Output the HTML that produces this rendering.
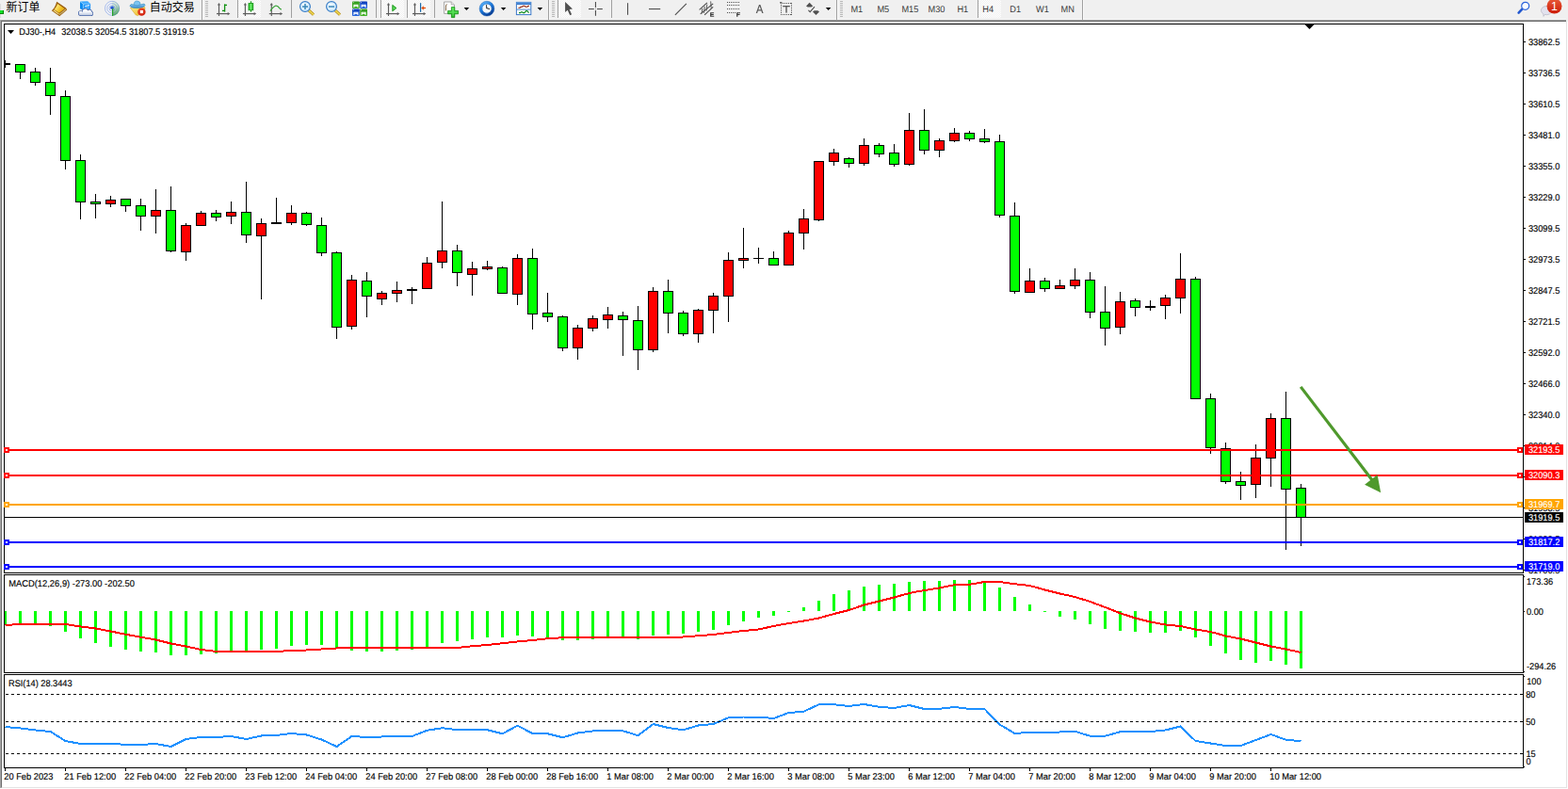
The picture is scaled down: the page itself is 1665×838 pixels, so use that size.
<!DOCTYPE html>
<html><head><meta charset="utf-8"><title>DJ30-,H4</title>
<style>
html,body{margin:0;padding:0;background:#fff;}
body{width:1665px;height:838px;overflow:hidden;position:relative;font-family:"Liberation Sans",sans-serif;}
.tb{position:absolute;left:0;top:0;width:1665px;height:23px;background:#f0f0f0;}
.tb i{position:absolute;left:0;width:1663px;height:1px;display:block}
.ls0{position:absolute;left:0;top:21px;width:1px;height:816px;background:#a6a6a6}
.ls1{position:absolute;left:1px;top:22px;width:1px;height:814px;background:#6d6d6d;box-shadow:0 1px 0 #a6a6a6}
.rs{position:absolute;left:1663px;top:23px;width:1px;height:814px;background:#e3e3e3}
.bs{position:absolute;left:2px;top:836px;width:1662px;height:1px;background:#e3e3e3}
svg.chart{position:absolute;left:0;top:0}
svg.tbi{position:absolute;left:0;top:0}
</style></head><body>
<div class="tb"><i style="top:20px;background:#f5f5f5"></i><i style="top:21px;background:#a0a0a0"></i><i style="top:22px;background:#696969"></i></div>
<div class="rs"></div><div class="bs"></div><div class="ls0"></div><div class="ls1"></div>
<svg class="chart" width="1665" height="838" viewBox="0 0 1665 838">
<g shape-rendering="crispEdges">
<rect x="4" y="25" width="1614" height="1" fill="#000"/>
<rect x="4" y="608" width="1614" height="1" fill="#000"/>
<rect x="4" y="25" width="1" height="584" fill="#000"/>
<rect x="1617" y="25" width="1" height="584" fill="#000"/>
<rect x="4" y="610" width="1614" height="1" fill="#000"/>
<rect x="4" y="714" width="1614" height="1" fill="#000"/>
<rect x="4" y="610" width="1" height="105" fill="#000"/>
<rect x="1617" y="610" width="1" height="105" fill="#000"/>
<rect x="4" y="716" width="1614" height="1" fill="#000"/>
<rect x="4" y="815" width="1614" height="1" fill="#000"/>
<rect x="4" y="716" width="1" height="100" fill="#000"/>
<rect x="1617" y="716" width="1" height="100" fill="#000"/>
<polygon points="1385.5,26 1395.5,26 1390.5,31" fill="#000" shape-rendering="geometricPrecision"/>
<polygon points="8,32 15,32 11.5,36" fill="#000" shape-rendering="geometricPrecision"/>
<rect x="5" y="64" width="1" height="8" fill="#000"/>
<rect x="5" y="67" width="6" height="2" fill="#000"/>
<rect x="21" y="68" width="1" height="16" fill="#000"/>
<rect x="16" y="68" width="11" height="9" fill="#000"/>
<rect x="17" y="69" width="9" height="7" fill="#00ff00"/>
<rect x="37" y="72" width="1" height="19" fill="#000"/>
<rect x="32" y="76" width="11" height="12" fill="#000"/>
<rect x="33" y="77" width="9" height="10" fill="#00ff00"/>
<rect x="53" y="72" width="1" height="50" fill="#000"/>
<rect x="48" y="87" width="11" height="15" fill="#000"/>
<rect x="49" y="88" width="9" height="13" fill="#00ff00"/>
<rect x="69" y="96" width="1" height="84" fill="#000"/>
<rect x="64" y="102" width="11" height="69" fill="#000"/>
<rect x="65" y="103" width="9" height="67" fill="#00ff00"/>
<rect x="85" y="164" width="1" height="69" fill="#000"/>
<rect x="80" y="170" width="11" height="45" fill="#000"/>
<rect x="81" y="171" width="9" height="43" fill="#00ff00"/>
<rect x="101" y="206" width="1" height="26" fill="#000"/>
<rect x="96" y="214" width="11" height="3" fill="#000"/>
<rect x="97" y="215" width="9" height="1" fill="#00ff00"/>
<rect x="117" y="208" width="1" height="12" fill="#000"/>
<rect x="112" y="212" width="11" height="5" fill="#000"/>
<rect x="113" y="213" width="9" height="3" fill="#ff0000"/>
<rect x="133" y="211" width="1" height="14" fill="#000"/>
<rect x="128" y="211" width="11" height="8" fill="#000"/>
<rect x="129" y="212" width="9" height="6" fill="#00ff00"/>
<rect x="149" y="211" width="1" height="34" fill="#000"/>
<rect x="144" y="218" width="11" height="12" fill="#000"/>
<rect x="145" y="219" width="9" height="10" fill="#00ff00"/>
<rect x="165" y="201" width="1" height="47" fill="#000"/>
<rect x="160" y="223" width="11" height="7" fill="#000"/>
<rect x="161" y="224" width="9" height="5" fill="#ff0000"/>
<rect x="181" y="198" width="1" height="70" fill="#000"/>
<rect x="176" y="223" width="11" height="44" fill="#000"/>
<rect x="177" y="224" width="9" height="42" fill="#00ff00"/>
<rect x="197" y="237" width="1" height="40" fill="#000"/>
<rect x="192" y="239" width="11" height="29" fill="#000"/>
<rect x="193" y="240" width="9" height="27" fill="#ff0000"/>
<rect x="213" y="224" width="1" height="16" fill="#000"/>
<rect x="208" y="226" width="11" height="14" fill="#000"/>
<rect x="209" y="227" width="9" height="12" fill="#ff0000"/>
<rect x="229" y="223" width="1" height="12" fill="#000"/>
<rect x="224" y="226" width="11" height="5" fill="#000"/>
<rect x="225" y="227" width="9" height="3" fill="#00ff00"/>
<rect x="245" y="214" width="1" height="24" fill="#000"/>
<rect x="240" y="225" width="11" height="5" fill="#000"/>
<rect x="241" y="226" width="9" height="3" fill="#ff0000"/>
<rect x="261" y="193" width="1" height="65" fill="#000"/>
<rect x="256" y="225" width="11" height="25" fill="#000"/>
<rect x="257" y="226" width="9" height="23" fill="#00ff00"/>
<rect x="277" y="232" width="1" height="86" fill="#000"/>
<rect x="272" y="237" width="11" height="14" fill="#000"/>
<rect x="273" y="238" width="9" height="12" fill="#ff0000"/>
<rect x="293" y="210" width="1" height="28" fill="#000"/>
<rect x="288" y="236" width="11" height="2" fill="#000"/>
<rect x="309" y="218" width="1" height="21" fill="#000"/>
<rect x="304" y="226" width="11" height="11" fill="#000"/>
<rect x="305" y="227" width="9" height="9" fill="#ff0000"/>
<rect x="325" y="225" width="1" height="15" fill="#000"/>
<rect x="320" y="226" width="11" height="13" fill="#000"/>
<rect x="321" y="227" width="9" height="11" fill="#00ff00"/>
<rect x="341" y="231" width="1" height="41" fill="#000"/>
<rect x="336" y="239" width="11" height="30" fill="#000"/>
<rect x="337" y="240" width="9" height="28" fill="#00ff00"/>
<rect x="357" y="267" width="1" height="93" fill="#000"/>
<rect x="352" y="268" width="11" height="80" fill="#000"/>
<rect x="353" y="269" width="9" height="78" fill="#00ff00"/>
<rect x="373" y="292" width="1" height="58" fill="#000"/>
<rect x="368" y="297" width="11" height="50" fill="#000"/>
<rect x="369" y="298" width="9" height="48" fill="#ff0000"/>
<rect x="389" y="289" width="1" height="48" fill="#000"/>
<rect x="384" y="298" width="11" height="17" fill="#000"/>
<rect x="385" y="299" width="9" height="15" fill="#00ff00"/>
<rect x="405" y="309" width="1" height="15" fill="#000"/>
<rect x="400" y="311" width="11" height="7" fill="#000"/>
<rect x="401" y="312" width="9" height="5" fill="#ff0000"/>
<rect x="421" y="299" width="1" height="22" fill="#000"/>
<rect x="416" y="308" width="11" height="4" fill="#000"/>
<rect x="417" y="309" width="9" height="2" fill="#ff0000"/>
<rect x="437" y="305" width="1" height="18" fill="#000"/>
<rect x="432" y="307" width="11" height="2" fill="#000"/>
<rect x="453" y="273" width="1" height="34" fill="#000"/>
<rect x="448" y="279" width="11" height="28" fill="#000"/>
<rect x="449" y="280" width="9" height="26" fill="#ff0000"/>
<rect x="469" y="214" width="1" height="71" fill="#000"/>
<rect x="464" y="266" width="11" height="13" fill="#000"/>
<rect x="465" y="267" width="9" height="11" fill="#ff0000"/>
<rect x="485" y="260" width="1" height="44" fill="#000"/>
<rect x="480" y="266" width="11" height="24" fill="#000"/>
<rect x="481" y="267" width="9" height="22" fill="#00ff00"/>
<rect x="501" y="278" width="1" height="36" fill="#000"/>
<rect x="496" y="285" width="11" height="7" fill="#000"/>
<rect x="497" y="286" width="9" height="5" fill="#ff0000"/>
<rect x="517" y="277" width="1" height="10" fill="#000"/>
<rect x="512" y="283" width="11" height="3" fill="#000"/>
<rect x="513" y="284" width="9" height="1" fill="#ff0000"/>
<rect x="533" y="283" width="1" height="29" fill="#000"/>
<rect x="528" y="284" width="11" height="28" fill="#000"/>
<rect x="529" y="285" width="9" height="26" fill="#00ff00"/>
<rect x="549" y="270" width="1" height="54" fill="#000"/>
<rect x="544" y="274" width="11" height="39" fill="#000"/>
<rect x="545" y="275" width="9" height="37" fill="#ff0000"/>
<rect x="565" y="264" width="1" height="86" fill="#000"/>
<rect x="560" y="274" width="11" height="60" fill="#000"/>
<rect x="561" y="275" width="9" height="58" fill="#00ff00"/>
<rect x="581" y="311" width="1" height="31" fill="#000"/>
<rect x="576" y="332" width="11" height="5" fill="#000"/>
<rect x="577" y="333" width="9" height="3" fill="#00ff00"/>
<rect x="597" y="335" width="1" height="38" fill="#000"/>
<rect x="592" y="336" width="11" height="34" fill="#000"/>
<rect x="593" y="337" width="9" height="32" fill="#00ff00"/>
<rect x="613" y="345" width="1" height="37" fill="#000"/>
<rect x="608" y="348" width="11" height="22" fill="#000"/>
<rect x="609" y="349" width="9" height="20" fill="#ff0000"/>
<rect x="629" y="335" width="1" height="17" fill="#000"/>
<rect x="624" y="338" width="11" height="11" fill="#000"/>
<rect x="625" y="339" width="9" height="9" fill="#ff0000"/>
<rect x="645" y="326" width="1" height="23" fill="#000"/>
<rect x="640" y="334" width="11" height="6" fill="#000"/>
<rect x="641" y="335" width="9" height="4" fill="#ff0000"/>
<rect x="661" y="331" width="1" height="47" fill="#000"/>
<rect x="656" y="335" width="11" height="5" fill="#000"/>
<rect x="657" y="336" width="9" height="3" fill="#00ff00"/>
<rect x="677" y="325" width="1" height="68" fill="#000"/>
<rect x="672" y="340" width="11" height="32" fill="#000"/>
<rect x="673" y="341" width="9" height="30" fill="#00ff00"/>
<rect x="693" y="305" width="1" height="69" fill="#000"/>
<rect x="688" y="309" width="11" height="63" fill="#000"/>
<rect x="689" y="310" width="9" height="61" fill="#ff0000"/>
<rect x="709" y="297" width="1" height="57" fill="#000"/>
<rect x="704" y="309" width="11" height="24" fill="#000"/>
<rect x="705" y="310" width="9" height="22" fill="#00ff00"/>
<rect x="725" y="330" width="1" height="27" fill="#000"/>
<rect x="720" y="332" width="11" height="23" fill="#000"/>
<rect x="721" y="333" width="9" height="21" fill="#00ff00"/>
<rect x="741" y="328" width="1" height="36" fill="#000"/>
<rect x="736" y="329" width="11" height="26" fill="#000"/>
<rect x="737" y="330" width="9" height="24" fill="#ff0000"/>
<rect x="757" y="311" width="1" height="43" fill="#000"/>
<rect x="752" y="314" width="11" height="16" fill="#000"/>
<rect x="753" y="315" width="9" height="14" fill="#ff0000"/>
<rect x="773" y="268" width="1" height="74" fill="#000"/>
<rect x="768" y="276" width="11" height="39" fill="#000"/>
<rect x="769" y="277" width="9" height="37" fill="#ff0000"/>
<rect x="789" y="242" width="1" height="43" fill="#000"/>
<rect x="784" y="274" width="11" height="3" fill="#000"/>
<rect x="785" y="275" width="9" height="1" fill="#ff0000"/>
<rect x="805" y="263" width="1" height="17" fill="#000"/>
<rect x="800" y="274" width="11" height="1" fill="#000"/>
<rect x="821" y="267" width="1" height="15" fill="#000"/>
<rect x="816" y="274" width="11" height="8" fill="#000"/>
<rect x="817" y="275" width="9" height="6" fill="#00ff00"/>
<rect x="837" y="245" width="1" height="37" fill="#000"/>
<rect x="832" y="247" width="11" height="35" fill="#000"/>
<rect x="833" y="248" width="9" height="33" fill="#ff0000"/>
<rect x="853" y="222" width="1" height="43" fill="#000"/>
<rect x="848" y="232" width="11" height="16" fill="#000"/>
<rect x="849" y="233" width="9" height="14" fill="#ff0000"/>
<rect x="869" y="171" width="1" height="64" fill="#000"/>
<rect x="864" y="171" width="11" height="63" fill="#000"/>
<rect x="865" y="172" width="9" height="61" fill="#ff0000"/>
<rect x="885" y="158" width="1" height="18" fill="#000"/>
<rect x="880" y="162" width="11" height="10" fill="#000"/>
<rect x="881" y="163" width="9" height="8" fill="#ff0000"/>
<rect x="901" y="167" width="1" height="11" fill="#000"/>
<rect x="896" y="168" width="11" height="6" fill="#000"/>
<rect x="897" y="169" width="9" height="4" fill="#00ff00"/>
<rect x="917" y="147" width="1" height="29" fill="#000"/>
<rect x="912" y="154" width="11" height="20" fill="#000"/>
<rect x="913" y="155" width="9" height="18" fill="#ff0000"/>
<rect x="933" y="152" width="1" height="15" fill="#000"/>
<rect x="928" y="154" width="11" height="10" fill="#000"/>
<rect x="929" y="155" width="9" height="8" fill="#00ff00"/>
<rect x="949" y="153" width="1" height="24" fill="#000"/>
<rect x="944" y="162" width="11" height="13" fill="#000"/>
<rect x="945" y="163" width="9" height="11" fill="#00ff00"/>
<rect x="965" y="120" width="1" height="56" fill="#000"/>
<rect x="960" y="138" width="11" height="37" fill="#000"/>
<rect x="961" y="139" width="9" height="35" fill="#ff0000"/>
<rect x="981" y="116" width="1" height="48" fill="#000"/>
<rect x="976" y="138" width="11" height="22" fill="#000"/>
<rect x="977" y="139" width="9" height="20" fill="#00ff00"/>
<rect x="997" y="147" width="1" height="20" fill="#000"/>
<rect x="992" y="149" width="11" height="11" fill="#000"/>
<rect x="993" y="150" width="9" height="9" fill="#ff0000"/>
<rect x="1013" y="136" width="1" height="15" fill="#000"/>
<rect x="1008" y="141" width="11" height="9" fill="#000"/>
<rect x="1009" y="142" width="9" height="7" fill="#ff0000"/>
<rect x="1029" y="139" width="1" height="11" fill="#000"/>
<rect x="1024" y="141" width="11" height="7" fill="#000"/>
<rect x="1025" y="142" width="9" height="5" fill="#00ff00"/>
<rect x="1045" y="137" width="1" height="15" fill="#000"/>
<rect x="1040" y="147" width="11" height="4" fill="#000"/>
<rect x="1041" y="148" width="9" height="2" fill="#00ff00"/>
<rect x="1061" y="143" width="1" height="88" fill="#000"/>
<rect x="1056" y="150" width="11" height="79" fill="#000"/>
<rect x="1057" y="151" width="9" height="77" fill="#00ff00"/>
<rect x="1077" y="215" width="1" height="97" fill="#000"/>
<rect x="1072" y="229" width="11" height="81" fill="#000"/>
<rect x="1073" y="230" width="9" height="79" fill="#00ff00"/>
<rect x="1093" y="285" width="1" height="26" fill="#000"/>
<rect x="1088" y="298" width="11" height="13" fill="#000"/>
<rect x="1089" y="299" width="9" height="11" fill="#ff0000"/>
<rect x="1109" y="295" width="1" height="15" fill="#000"/>
<rect x="1104" y="298" width="11" height="9" fill="#000"/>
<rect x="1105" y="299" width="9" height="7" fill="#00ff00"/>
<rect x="1125" y="297" width="1" height="10" fill="#000"/>
<rect x="1120" y="303" width="11" height="4" fill="#000"/>
<rect x="1121" y="304" width="9" height="2" fill="#ff0000"/>
<rect x="1141" y="285" width="1" height="22" fill="#000"/>
<rect x="1136" y="297" width="11" height="7" fill="#000"/>
<rect x="1137" y="298" width="9" height="5" fill="#ff0000"/>
<rect x="1157" y="289" width="1" height="49" fill="#000"/>
<rect x="1152" y="297" width="11" height="35" fill="#000"/>
<rect x="1153" y="298" width="9" height="33" fill="#00ff00"/>
<rect x="1173" y="304" width="1" height="63" fill="#000"/>
<rect x="1168" y="331" width="11" height="18" fill="#000"/>
<rect x="1169" y="332" width="9" height="16" fill="#00ff00"/>
<rect x="1189" y="310" width="1" height="45" fill="#000"/>
<rect x="1184" y="320" width="11" height="28" fill="#000"/>
<rect x="1185" y="321" width="9" height="26" fill="#ff0000"/>
<rect x="1205" y="317" width="1" height="19" fill="#000"/>
<rect x="1200" y="319" width="11" height="8" fill="#000"/>
<rect x="1201" y="320" width="9" height="6" fill="#00ff00"/>
<rect x="1221" y="319" width="1" height="11" fill="#000"/>
<rect x="1216" y="325" width="11" height="2" fill="#000"/>
<rect x="1237" y="313" width="1" height="26" fill="#000"/>
<rect x="1232" y="316" width="11" height="9" fill="#000"/>
<rect x="1233" y="317" width="9" height="7" fill="#ff0000"/>
<rect x="1253" y="269" width="1" height="64" fill="#000"/>
<rect x="1248" y="296" width="11" height="21" fill="#000"/>
<rect x="1249" y="297" width="9" height="19" fill="#ff0000"/>
<rect x="1269" y="294" width="1" height="130" fill="#000"/>
<rect x="1264" y="296" width="11" height="128" fill="#000"/>
<rect x="1265" y="297" width="9" height="126" fill="#00ff00"/>
<rect x="1285" y="418" width="1" height="64" fill="#000"/>
<rect x="1280" y="423" width="11" height="53" fill="#000"/>
<rect x="1281" y="424" width="9" height="51" fill="#00ff00"/>
<rect x="1301" y="470" width="1" height="44" fill="#000"/>
<rect x="1296" y="476" width="11" height="36" fill="#000"/>
<rect x="1297" y="477" width="9" height="34" fill="#00ff00"/>
<rect x="1317" y="501" width="1" height="30" fill="#000"/>
<rect x="1312" y="511" width="11" height="5" fill="#000"/>
<rect x="1313" y="512" width="9" height="3" fill="#00ff00"/>
<rect x="1333" y="472" width="1" height="57" fill="#000"/>
<rect x="1328" y="486" width="11" height="29" fill="#000"/>
<rect x="1329" y="487" width="9" height="27" fill="#ff0000"/>
<rect x="1349" y="439" width="1" height="78" fill="#000"/>
<rect x="1344" y="444" width="11" height="43" fill="#000"/>
<rect x="1345" y="445" width="9" height="41" fill="#ff0000"/>
<rect x="1365" y="416" width="1" height="168" fill="#000"/>
<rect x="1360" y="444" width="11" height="76" fill="#000"/>
<rect x="1361" y="445" width="9" height="74" fill="#00ff00"/>
<rect x="1381" y="514" width="1" height="66" fill="#000"/>
<rect x="1376" y="518" width="11" height="32" fill="#000"/>
<rect x="1377" y="519" width="9" height="30" fill="#00ff00"/>
<rect x="5" y="549" width="1612" height="1" fill="#000"/>
<rect x="5" y="477" width="1612" height="2" fill="#ff0000"/><rect x="4" y="475" width="6" height="6" fill="#ff0000"/><rect x="6" y="477" width="2" height="2" fill="#fff"/><rect x="1611" y="475" width="6" height="6" fill="#ff0000"/><rect x="1613" y="477" width="2" height="2" fill="#fff"/>
<rect x="5" y="504" width="1612" height="2" fill="#ff0000"/><rect x="4" y="502" width="6" height="6" fill="#ff0000"/><rect x="6" y="504" width="2" height="2" fill="#fff"/><rect x="1611" y="502" width="6" height="6" fill="#ff0000"/><rect x="1613" y="504" width="2" height="2" fill="#fff"/>
<rect x="5" y="535" width="1612" height="2" fill="#ffa500"/><rect x="4" y="533" width="6" height="6" fill="#ffa500"/><rect x="6" y="535" width="2" height="2" fill="#fff"/><rect x="1611" y="533" width="6" height="6" fill="#ffa500"/><rect x="1613" y="535" width="2" height="2" fill="#fff"/>
<rect x="5" y="575" width="1612" height="2" fill="#0000ff"/><rect x="4" y="573" width="6" height="6" fill="#0000ff"/><rect x="6" y="575" width="2" height="2" fill="#fff"/><rect x="1611" y="573" width="6" height="6" fill="#0000ff"/><rect x="1613" y="575" width="2" height="2" fill="#fff"/>
<rect x="5" y="601" width="1612" height="2" fill="#0000ff"/><rect x="4" y="599" width="6" height="6" fill="#0000ff"/><rect x="6" y="601" width="2" height="2" fill="#fff"/><rect x="1611" y="599" width="6" height="6" fill="#0000ff"/><rect x="1613" y="601" width="2" height="2" fill="#fff"/>
<g shape-rendering="geometricPrecision"><line x1="1381.2" y1="410.9" x2="1457.5" y2="510.5" stroke="#4f992c" stroke-width="3.2"/><polygon points="1449.1,514.8 1462.6,504.2 1466.2,523.3" fill="#4f992c"/></g>
<rect x="5" y="649" width="2" height="15" fill="#00ff00"/>
<rect x="20" y="649" width="3" height="14" fill="#00ff00"/>
<rect x="36" y="649" width="3" height="14" fill="#00ff00"/>
<rect x="52" y="649" width="3" height="16" fill="#00ff00"/>
<rect x="68" y="649" width="3" height="22" fill="#00ff00"/>
<rect x="84" y="649" width="3" height="29" fill="#00ff00"/>
<rect x="100" y="649" width="3" height="34" fill="#00ff00"/>
<rect x="116" y="649" width="3" height="38" fill="#00ff00"/>
<rect x="132" y="649" width="3" height="41" fill="#00ff00"/>
<rect x="148" y="649" width="3" height="43" fill="#00ff00"/>
<rect x="164" y="649" width="3" height="44" fill="#00ff00"/>
<rect x="180" y="649" width="3" height="47" fill="#00ff00"/>
<rect x="196" y="649" width="3" height="47" fill="#00ff00"/>
<rect x="212" y="649" width="3" height="46" fill="#00ff00"/>
<rect x="228" y="649" width="3" height="45" fill="#00ff00"/>
<rect x="244" y="649" width="3" height="43" fill="#00ff00"/>
<rect x="260" y="649" width="3" height="43" fill="#00ff00"/>
<rect x="276" y="649" width="3" height="41" fill="#00ff00"/>
<rect x="292" y="649" width="3" height="40" fill="#00ff00"/>
<rect x="308" y="649" width="3" height="37" fill="#00ff00"/>
<rect x="324" y="649" width="3" height="36" fill="#00ff00"/>
<rect x="340" y="649" width="3" height="36" fill="#00ff00"/>
<rect x="356" y="649" width="3" height="40" fill="#00ff00"/>
<rect x="372" y="649" width="3" height="42" fill="#00ff00"/>
<rect x="388" y="649" width="3" height="43" fill="#00ff00"/>
<rect x="404" y="649" width="3" height="43" fill="#00ff00"/>
<rect x="420" y="649" width="3" height="42" fill="#00ff00"/>
<rect x="436" y="649" width="3" height="41" fill="#00ff00"/>
<rect x="452" y="649" width="3" height="38" fill="#00ff00"/>
<rect x="468" y="649" width="3" height="34" fill="#00ff00"/>
<rect x="484" y="649" width="3" height="32" fill="#00ff00"/>
<rect x="500" y="649" width="3" height="30" fill="#00ff00"/>
<rect x="516" y="649" width="3" height="28" fill="#00ff00"/>
<rect x="532" y="649" width="3" height="28" fill="#00ff00"/>
<rect x="548" y="649" width="3" height="26" fill="#00ff00"/>
<rect x="564" y="649" width="3" height="27" fill="#00ff00"/>
<rect x="580" y="649" width="3" height="29" fill="#00ff00"/>
<rect x="596" y="649" width="3" height="31" fill="#00ff00"/>
<rect x="612" y="649" width="3" height="31" fill="#00ff00"/>
<rect x="628" y="649" width="3" height="30" fill="#00ff00"/>
<rect x="644" y="649" width="3" height="28" fill="#00ff00"/>
<rect x="660" y="649" width="3" height="28" fill="#00ff00"/>
<rect x="676" y="649" width="3" height="30" fill="#00ff00"/>
<rect x="692" y="649" width="3" height="26" fill="#00ff00"/>
<rect x="708" y="649" width="3" height="25" fill="#00ff00"/>
<rect x="724" y="649" width="3" height="24" fill="#00ff00"/>
<rect x="740" y="649" width="3" height="22" fill="#00ff00"/>
<rect x="756" y="649" width="3" height="20" fill="#00ff00"/>
<rect x="772" y="649" width="3" height="15" fill="#00ff00"/>
<rect x="788" y="649" width="3" height="11" fill="#00ff00"/>
<rect x="804" y="649" width="3" height="7" fill="#00ff00"/>
<rect x="820" y="649" width="3" height="5" fill="#00ff00"/>
<rect x="836" y="649" width="3" height="1" fill="#00ff00"/>
<rect x="852" y="645" width="3" height="4" fill="#00ff00"/>
<rect x="868" y="638" width="3" height="11" fill="#00ff00"/>
<rect x="884" y="631" width="3" height="18" fill="#00ff00"/>
<rect x="900" y="627" width="3" height="22" fill="#00ff00"/>
<rect x="916" y="623" width="3" height="26" fill="#00ff00"/>
<rect x="932" y="621" width="3" height="28" fill="#00ff00"/>
<rect x="948" y="620" width="3" height="29" fill="#00ff00"/>
<rect x="964" y="618" width="3" height="31" fill="#00ff00"/>
<rect x="980" y="617" width="3" height="32" fill="#00ff00"/>
<rect x="996" y="617" width="3" height="32" fill="#00ff00"/>
<rect x="1012" y="616" width="3" height="33" fill="#00ff00"/>
<rect x="1028" y="616" width="3" height="33" fill="#00ff00"/>
<rect x="1044" y="617" width="3" height="32" fill="#00ff00"/>
<rect x="1060" y="624" width="3" height="25" fill="#00ff00"/>
<rect x="1076" y="634" width="3" height="15" fill="#00ff00"/>
<rect x="1092" y="642" width="3" height="7" fill="#00ff00"/>
<rect x="1108" y="649" width="3" height="1" fill="#00ff00"/>
<rect x="1124" y="649" width="3" height="6" fill="#00ff00"/>
<rect x="1140" y="649" width="3" height="9" fill="#00ff00"/>
<rect x="1156" y="649" width="3" height="14" fill="#00ff00"/>
<rect x="1172" y="649" width="3" height="19" fill="#00ff00"/>
<rect x="1188" y="649" width="3" height="21" fill="#00ff00"/>
<rect x="1204" y="649" width="3" height="22" fill="#00ff00"/>
<rect x="1220" y="649" width="3" height="23" fill="#00ff00"/>
<rect x="1236" y="649" width="3" height="23" fill="#00ff00"/>
<rect x="1252" y="649" width="3" height="21" fill="#00ff00"/>
<rect x="1268" y="649" width="3" height="28" fill="#00ff00"/>
<rect x="1284" y="649" width="3" height="37" fill="#00ff00"/>
<rect x="1300" y="649" width="3" height="45" fill="#00ff00"/>
<rect x="1316" y="649" width="3" height="52" fill="#00ff00"/>
<rect x="1332" y="649" width="3" height="55" fill="#00ff00"/>
<rect x="1348" y="649" width="3" height="53" fill="#00ff00"/>
<rect x="1364" y="649" width="3" height="57" fill="#00ff00"/>
<rect x="1380" y="649" width="3" height="61" fill="#00ff00"/>
<polyline points="5.5,664 21.5,663 37.5,663 53.5,663 69.5,663 85.5,665.5 101.5,667.5 117.5,670.5 133.5,673.75 149.5,676.75 165.5,679.5 181.5,683.5 197.5,686.5 213.5,690 229.5,692 245.5,692 261.5,692 277.5,692 293.5,692 309.5,691 325.5,690.5 341.5,689.5 357.5,688.5 373.5,688 389.5,688 405.5,688 421.5,688 437.5,688 453.5,688 469.5,688 485.5,688 501.5,686.25 517.5,685 533.5,683.25 549.5,681.5 565.5,680 581.5,678.25 597.5,677.25 613.5,677 629.5,677 645.5,677 661.5,677 677.5,677 693.5,677 709.5,677 725.5,676.5 741.5,675.25 757.5,674 773.5,672 789.5,670 805.5,668.5 821.5,665 837.5,662 853.5,659.5 869.5,656.5 885.5,652 901.5,648 917.5,642.5 933.5,638.5 949.5,634.5 965.5,630 981.5,627 997.5,624.5 1013.5,621.25 1029.5,620.75 1045.5,618 1061.5,618 1077.5,620.25 1093.5,622 1109.5,626.5 1125.5,630.5 1141.5,634 1157.5,639 1173.5,645 1189.5,651.25 1205.5,656.5 1221.5,660.5 1237.5,663.5 1253.5,665 1269.5,668.5 1285.5,671 1301.5,675.5 1317.5,678.5 1333.5,682.5 1349.5,686.5 1365.5,689.5 1381.5,693" fill="none" stroke="#ff0000" stroke-width="2" stroke-linejoin="round" shape-rendering="crispEdges"/>
<polyline points="5.5,772 21.5,773.5 37.5,775.5 53.5,777 69.5,787 85.5,790 101.5,790 117.5,790 133.5,790.75 149.5,791 165.5,790 181.5,793 197.5,785 213.5,783 229.5,783 245.5,782 261.5,785 277.5,781.5 293.5,781 309.5,779 325.5,780.5 341.5,785.5 357.5,793 373.5,782 389.5,783 405.5,782.5 421.5,782 437.5,782 453.5,775.75 469.5,773.25 485.5,775.25 501.5,775.25 517.5,775.25 533.5,779.25 549.5,770.75 565.5,779 581.5,779.25 597.5,783.25 613.5,778.5 629.5,776.5 645.5,776.25 661.5,776.25 677.5,781.25 693.5,769 709.5,773 725.5,775.25 741.5,770.5 757.5,769 773.5,762.25 789.5,761.5 805.5,761.5 821.5,763 837.5,757 853.5,755.75 869.5,748.25 885.5,748.25 901.5,750 917.5,748 933.5,750.75 949.5,752 965.5,749 981.5,753 997.5,752.75 1013.5,751 1029.5,753 1045.5,753 1061.5,769.5 1077.5,779 1093.5,777.75 1109.5,777.75 1125.5,777.5 1141.5,776.75 1157.5,781.75 1173.5,781.75 1189.5,777.25 1205.5,777 1221.5,777 1237.5,775.5 1253.5,771.5 1269.5,787 1285.5,789.5 1301.5,792 1317.5,792 1333.5,786 1349.5,780 1365.5,785.75 1381.5,787.25" fill="none" stroke="#1e90ff" stroke-width="2" stroke-linejoin="round" shape-rendering="crispEdges"/>
<line x1="6" y1="737.5" x2="1617" y2="737.5" stroke="#000" stroke-width="1" stroke-dasharray="3,3"/>
<line x1="6" y1="766.5" x2="1617" y2="766.5" stroke="#000" stroke-width="1" stroke-dasharray="3,3"/>
<line x1="6" y1="800.5" x2="1617" y2="800.5" stroke="#000" stroke-width="1" stroke-dasharray="3,3"/>
<rect x="1618" y="44" width="2" height="1" fill="#000"/>
<rect x="1618" y="77" width="2" height="1" fill="#000"/>
<rect x="1618" y="110" width="2" height="1" fill="#000"/>
<rect x="1618" y="143" width="2" height="1" fill="#000"/>
<rect x="1618" y="176" width="2" height="1" fill="#000"/>
<rect x="1618" y="209" width="2" height="1" fill="#000"/>
<rect x="1618" y="242" width="2" height="1" fill="#000"/>
<rect x="1618" y="275" width="2" height="1" fill="#000"/>
<rect x="1618" y="308" width="2" height="1" fill="#000"/>
<rect x="1618" y="341" width="2" height="1" fill="#000"/>
<rect x="1618" y="374" width="2" height="1" fill="#000"/>
<rect x="1618" y="407" width="2" height="1" fill="#000"/>
<rect x="1618" y="440" width="2" height="1" fill="#000"/>
<rect x="1618" y="473" width="2" height="1" fill="#000"/>
<rect x="1618" y="506" width="2" height="1" fill="#000"/>
<rect x="1618" y="539" width="2" height="1" fill="#000"/>
<rect x="1618" y="572" width="2" height="1" fill="#000"/>
<rect x="1618" y="605" width="2" height="1" fill="#000"/>
<rect x="1618" y="612" width="1" height="1" fill="#000"/>
<rect x="1618" y="649" width="1" height="1" fill="#000"/>
<rect x="1618" y="713" width="1" height="1" fill="#000"/>
<rect x="1618" y="718" width="1" height="1" fill="#000"/>
<rect x="1618" y="814" width="1" height="1" fill="#000"/>
<rect x="5" y="816" width="1" height="3" fill="#000"/>
<rect x="69" y="816" width="1" height="3" fill="#000"/>
<rect x="133" y="816" width="1" height="3" fill="#000"/>
<rect x="197" y="816" width="1" height="3" fill="#000"/>
<rect x="261" y="816" width="1" height="3" fill="#000"/>
<rect x="325" y="816" width="1" height="3" fill="#000"/>
<rect x="389" y="816" width="1" height="3" fill="#000"/>
<rect x="453" y="816" width="1" height="3" fill="#000"/>
<rect x="517" y="816" width="1" height="3" fill="#000"/>
<rect x="581" y="816" width="1" height="3" fill="#000"/>
<rect x="645" y="816" width="1" height="3" fill="#000"/>
<rect x="709" y="816" width="1" height="3" fill="#000"/>
<rect x="773" y="816" width="1" height="3" fill="#000"/>
<rect x="837" y="816" width="1" height="3" fill="#000"/>
<rect x="901" y="816" width="1" height="3" fill="#000"/>
<rect x="965" y="816" width="1" height="3" fill="#000"/>
<rect x="1029" y="816" width="1" height="3" fill="#000"/>
<rect x="1093" y="816" width="1" height="3" fill="#000"/>
<rect x="1157" y="816" width="1" height="3" fill="#000"/>
<rect x="1221" y="816" width="1" height="3" fill="#000"/>
<rect x="1285" y="816" width="1" height="3" fill="#000"/>
<rect x="1349" y="816" width="1" height="3" fill="#000"/>
</g>
<g font-family="Liberation Sans, sans-serif" font-size="9.8px" stroke-width="0.15" text-rendering="geometricPrecision" shape-rendering="crispEdges">
<text transform="translate(1623,48) scale(0.94,1)" fill="#000" stroke="#000">33862.5</text>
<text transform="translate(1623,81) scale(0.94,1)" fill="#000" stroke="#000">33736.5</text>
<text transform="translate(1623,114) scale(0.94,1)" fill="#000" stroke="#000">33610.5</text>
<text transform="translate(1623,147) scale(0.94,1)" fill="#000" stroke="#000">33481.0</text>
<text transform="translate(1623,180) scale(0.94,1)" fill="#000" stroke="#000">33355.0</text>
<text transform="translate(1623,213) scale(0.94,1)" fill="#000" stroke="#000">33229.0</text>
<text transform="translate(1623,246) scale(0.94,1)" fill="#000" stroke="#000">33099.5</text>
<text transform="translate(1623,279) scale(0.94,1)" fill="#000" stroke="#000">32973.5</text>
<text transform="translate(1623,312) scale(0.94,1)" fill="#000" stroke="#000">32847.5</text>
<text transform="translate(1623,345) scale(0.94,1)" fill="#000" stroke="#000">32721.5</text>
<text transform="translate(1623,378) scale(0.94,1)" fill="#000" stroke="#000">32592.0</text>
<text transform="translate(1623,411) scale(0.94,1)" fill="#000" stroke="#000">32466.0</text>
<text transform="translate(1623,444) scale(0.94,1)" fill="#000" stroke="#000">32340.0</text>
<text transform="translate(1623,477) scale(0.94,1)" fill="#000" stroke="#000">32214.0</text>
<text transform="translate(1623,543) scale(0.94,1)" fill="#000" stroke="#000">31958.5</text>
<text transform="translate(1623,576) scale(0.94,1)" fill="#000" stroke="#000">31832.5</text>
<text transform="translate(1623,609) scale(0.94,1)" fill="#000" stroke="#000">31706.5</text>
<rect x="1619" y="472" width="41" height="11" fill="#ff0000"/>
<text transform="translate(1623,481) scale(0.94,1)" fill="#fff" stroke="#fff">32193.5</text>
<rect x="1619" y="499" width="41" height="11" fill="#ff0000"/>
<text transform="translate(1623,508) scale(0.94,1)" fill="#fff" stroke="#fff">32090.3</text>
<rect x="1619" y="530" width="41" height="11" fill="#ffa500"/>
<text transform="translate(1623,539) scale(0.94,1)" fill="#fff" stroke="#fff">31969.7</text>
<rect x="1619" y="570" width="41" height="11" fill="#0000ff"/>
<text transform="translate(1623,579) scale(0.94,1)" fill="#fff" stroke="#fff">31817.2</text>
<rect x="1619" y="596" width="41" height="11" fill="#0000ff"/>
<text transform="translate(1623,605) scale(0.94,1)" fill="#fff" stroke="#fff">31719.0</text>
<rect x="1619" y="544" width="41" height="11" fill="#000"/>
<text transform="translate(1623,553) scale(0.94,1)" fill="#fff" stroke="#fff">31919.5</text>
<text transform="translate(1621,621) scale(0.94,1)" fill="#000" stroke="#000">173.36</text>
<text transform="translate(1621,653) scale(0.94,1)" fill="#000" stroke="#000">0.00</text>
<text transform="translate(1621,711) scale(0.94,1)" fill="#000" stroke="#000">-294.26</text>
<text transform="translate(1621.2,727) scale(0.94,1)" fill="#000" stroke="#000">100</text>
<text transform="translate(1620.2,741) scale(0.94,1)" fill="#000" stroke="#000">80</text>
<text transform="translate(1620.2,770) scale(0.94,1)" fill="#000" stroke="#000">50</text>
<text transform="translate(1620.4,804) scale(0.94,1)" fill="#000" stroke="#000">15</text>
<text transform="translate(1620.6,812) scale(0.94,1)" fill="#000" stroke="#000">0</text>
<text transform="translate(4.2,828) scale(0.95,1)" fill="#000" stroke="#000">20 Feb 2023</text>
<text transform="translate(68.2,828) scale(0.95,1)" fill="#000" stroke="#000">21 Feb 12:00</text>
<text transform="translate(132.2,828) scale(0.95,1)" fill="#000" stroke="#000">22 Feb 04:00</text>
<text transform="translate(196.2,828) scale(0.95,1)" fill="#000" stroke="#000">22 Feb 20:00</text>
<text transform="translate(260.2,828) scale(0.95,1)" fill="#000" stroke="#000">23 Feb 12:00</text>
<text transform="translate(324.2,828) scale(0.95,1)" fill="#000" stroke="#000">24 Feb 04:00</text>
<text transform="translate(388.2,828) scale(0.95,1)" fill="#000" stroke="#000">24 Feb 20:00</text>
<text transform="translate(452.2,828) scale(0.95,1)" fill="#000" stroke="#000">27 Feb 08:00</text>
<text transform="translate(516.2,828) scale(0.95,1)" fill="#000" stroke="#000">28 Feb 00:00</text>
<text transform="translate(580.2,828) scale(0.95,1)" fill="#000" stroke="#000">28 Feb 16:00</text>
<text transform="translate(644.2,828) scale(0.95,1)" fill="#000" stroke="#000">1 Mar 08:00</text>
<text transform="translate(708.2,828) scale(0.95,1)" fill="#000" stroke="#000">2 Mar 00:00</text>
<text transform="translate(772.2,828) scale(0.95,1)" fill="#000" stroke="#000">2 Mar 16:00</text>
<text transform="translate(836.2,828) scale(0.95,1)" fill="#000" stroke="#000">3 Mar 08:00</text>
<text transform="translate(900.2,828) scale(0.95,1)" fill="#000" stroke="#000">5 Mar 23:00</text>
<text transform="translate(964.2,828) scale(0.95,1)" fill="#000" stroke="#000">6 Mar 12:00</text>
<text transform="translate(1028.2,828) scale(0.95,1)" fill="#000" stroke="#000">7 Mar 04:00</text>
<text transform="translate(1092.2,828) scale(0.95,1)" fill="#000" stroke="#000">7 Mar 20:00</text>
<text transform="translate(1156.2,828) scale(0.95,1)" fill="#000" stroke="#000">8 Mar 12:00</text>
<text transform="translate(1220.2,828) scale(0.95,1)" fill="#000" stroke="#000">9 Mar 04:00</text>
<text transform="translate(1284.2,828) scale(0.95,1)" fill="#000" stroke="#000">9 Mar 20:00</text>
<text transform="translate(1348.2,828) scale(0.95,1)" fill="#000" stroke="#000">10 Mar 12:00</text>
<text transform="translate(20.3,37) scale(0.94,1)" fill="#000" stroke="#000">DJ30-,H4</text>
<text transform="translate(65.2,37) scale(0.94,1)" fill="#000" stroke="#000">32038.5 32054.5 31807.5 31919.5</text>
<text transform="translate(9.2,623) scale(0.955,1)" fill="#000" stroke="#000">MACD(12,26,9) -273.00 -202.50</text>
<text transform="translate(9,729) scale(0.94,1)" fill="#000" stroke="#000">RSI(14) 28.3443</text>
</g>
</svg>
<svg class="tbi" width="1665" height="23" viewBox="0 0 1665 23">
<defs>
<pattern id="chk" width="2" height="2" patternUnits="userSpaceOnUse"><rect width="2" height="2" fill="#fff"/><rect width="1" height="1" fill="#f0f0f0"/><rect x="1" y="1" width="1" height="1" fill="#f0f0f0"/></pattern>
<linearGradient id="gold" x1="0" y1="0" x2="1" y2="0.6"><stop offset="0" stop-color="#f5c818"/><stop offset="0.35" stop-color="#fce068"/><stop offset="0.7" stop-color="#f0c020"/><stop offset="1" stop-color="#e0a818"/></linearGradient>
<linearGradient id="cloud" gradientUnits="userSpaceOnUse" x1="0" y1="9.5" x2="0" y2="16.6"><stop offset="0" stop-color="#ffffff"/><stop offset="0.45" stop-color="#f4f6fa"/><stop offset="1" stop-color="#b4c2dc"/></linearGradient>
<linearGradient id="srv" x1="0" y1="0" x2="1" y2="0"><stop offset="0" stop-color="#1e90ff"/><stop offset="1" stop-color="#1464c8"/></linearGradient>
<linearGradient id="sweep" x1="0" y1="0" x2="0.3" y2="1"><stop offset="0" stop-color="#e4f0e4" stop-opacity="0.5"/><stop offset="0.55" stop-color="#a8d4a8" stop-opacity="0.75"/><stop offset="1" stop-color="#48a848" stop-opacity="0.95"/></linearGradient>
<linearGradient id="sig" x1="0" y1="0" x2="1" y2="0"><stop offset="0" stop-color="#2f6fe0"/><stop offset="0.5" stop-color="#5a8fd8"/><stop offset="1" stop-color="#4aa84a"/></linearGradient>
<linearGradient id="hat" x1="0" y1="0" x2="0" y2="1"><stop offset="0" stop-color="#8cc8f0"/><stop offset="1" stop-color="#3a8ad0"/></linearGradient>
<linearGradient id="face" x1="0" y1="0" x2="1" y2="1"><stop offset="0" stop-color="#fff08a"/><stop offset="1" stop-color="#e8b020"/></linearGradient>
<radialGradient id="redc" cx="0.4" cy="0.3" r="0.8"><stop offset="0" stop-color="#f05030"/><stop offset="1" stop-color="#c81808"/></radialGradient>
<linearGradient id="badge" x1="0" y1="0" x2="0" y2="1"><stop offset="0" stop-color="#e85a38"/><stop offset="1" stop-color="#cc1c08"/></linearGradient>
<radialGradient id="lens" cx="0.4" cy="0.35" r="0.8"><stop offset="0" stop-color="#f4fbff"/><stop offset="1" stop-color="#bfe2fb"/></radialGradient>
<linearGradient id="handle" x1="0" y1="0" x2="1" y2="0"><stop offset="0" stop-color="#f0d040"/><stop offset="1" stop-color="#c09010"/></linearGradient>
<linearGradient id="gcan" x1="0" y1="0" x2="1" y2="0"><stop offset="0" stop-color="#20c020"/><stop offset="0.5" stop-color="#70f070"/><stop offset="1" stop-color="#18b018"/></linearGradient>
<linearGradient id="gq" x1="0" y1="0" x2="0" y2="1"><stop offset="0" stop-color="#2f9a1a"/><stop offset="1" stop-color="#46b42a"/></linearGradient>
<linearGradient id="bq" x1="0" y1="0" x2="0" y2="1"><stop offset="0" stop-color="#0838b8"/><stop offset="1" stop-color="#2a6ae0"/></linearGradient>
<linearGradient id="clk" x1="0.15" y1="0" x2="0.75" y2="1"><stop offset="0" stop-color="#58aef6"/><stop offset="0.45" stop-color="#1a78dc"/><stop offset="1" stop-color="#083c94"/></linearGradient>
<linearGradient id="plus" x1="0" y1="0" x2="0" y2="1"><stop offset="0" stop-color="#50e850"/><stop offset="1" stop-color="#10a010"/></linearGradient>
<linearGradient id="tplh" x1="0" y1="0" x2="0" y2="1"><stop offset="0" stop-color="#6aa8e8"/><stop offset="1" stop-color="#2a68c0"/></linearGradient>
</defs>
<rect x="0" y="11" width="4" height="4" fill="#008400" shape-rendering="crispEdges"/><rect x="0" y="11" width="3" height="3" fill="#10e028" shape-rendering="crispEdges"/><rect x="0" y="4" width="1" height="7" fill="#dcdcdc"/><rect x="0" y="15" width="1" height="4" fill="#dcdcdc"/>
<text x="6.6" y="12.2" font-family="'Liberation Sans', 'Noto Sans CJK SC', sans-serif" font-size="12px" fill="#000">新订单</text>
<text x="158.7" y="12.2" font-family="'Liberation Sans', 'Noto Sans CJK SC', sans-serif" font-size="12px" fill="#000">自动交易</text>
<g><path d="M60.2,1.8 L70.1,8.5 L71.2,10.6 L63.2,17.2 L54.8,11.2 Q58.4,8.6 60.2,1.8Z" fill="#9a5e0e"/><path d="M63.3,16.1 L70.3,10.5 L69.7,9.6 L63,14.8Z" fill="#dccb92"/><path d="M63.2,15.5 L70,10.1" stroke="#a07828" stroke-width="0.45"/><path d="M56.3,11.2 L62.6,15.7 L62.7,14.5 L57.6,10.6Z" fill="#f4dc80"/><path d="M61.0,4.0 L68.7,9.3 L62.8,13.8 L57.6,10.1 Q60.0,7.6 61.0,4.0Z" fill="url(#gold)"/></g>
<g><polygon points="85,1.6 88.3,4.2 88.3,10.9 85,9.2" fill="#0a8af0"/><polygon points="85,1.6 93.1,1.3 96.1,3.9 88.3,4.2" fill="#3aa8ff"/><polygon points="88.3,4.2 96.1,3.9 96.1,10 88.3,10.9" fill="#1c94fa"/><path d="M85,1.6 L88.3,4.2 L88.3,10.9 M88.3,4.2 L96.1,3.9" stroke="#bfe6ff" stroke-width="0.5" fill="none"/><path d="M90.2,6.7 L95,5.6" stroke="#eaf6ff" stroke-width="1.1"/><path d="M90.4,8.7 L95,8.1" stroke="#9ad2ff" stroke-width="0.7"/></g>
<g stroke="#3f5fa4" stroke-width="1.3" fill="#3f5fa4"><circle cx="85.8" cy="14" r="2.2"/><circle cx="90.5" cy="12.1" r="2.7"/><circle cx="95" cy="12.5" r="2.1"/><circle cx="96.5" cy="14.4" r="1.9"/><rect x="85.8" y="13" width="10.7" height="3.3"/></g>
<g fill="url(#cloud)"><circle cx="85.8" cy="14" r="2.2"/><circle cx="90.5" cy="12.1" r="2.7"/><circle cx="95" cy="12.5" r="2.1"/><circle cx="96.5" cy="14.4" r="1.9"/><rect x="85.8" y="13" width="10.7" height="3.3"/></g>
<circle cx="119" cy="8.8" r="8" fill="#fafafa" opacity="0.6"/><path d="M119,0.8 A8,8 0 0 1 119,16.8 Z" fill="url(#sweep)"/><g fill="none" stroke="#3a68d8"><circle cx="119" cy="8.8" r="7.5" stroke-width="1.0" opacity="0.42"/><circle cx="119" cy="8.8" r="5.2" stroke-width="1.0" opacity="0.42"/><circle cx="119" cy="8.8" r="3.0" stroke-width="0.9" opacity="0.5"/></g><rect x="119" y="9" width="1.2" height="7.9" fill="#22a022"/><circle cx="119" cy="8.3" r="1.8" fill="#2456d4"/><rect x="119" y="9.2" width="1.2" height="1.6" fill="#22a022"/>
<g><path d="M138.4,8.2 L153.7,7.4 L154,9.8 L146.6,16.6 L144.2,15.9 Z" fill="url(#face)" stroke="#d09a14" stroke-width="0.5"/><path d="M137.9,6.2 Q138.4,3.6 141.6,4.9 Q146,7 150.6,4.6 Q153.8,3.2 154,5.4 Q153,8.2 146,8.5 Q139.4,8.8 137.9,6.2Z" fill="url(#hat)" stroke="#2a88bc" stroke-width="0.6"/><path d="M142,5.2 Q142.2,1 145.6,1 Q149,1 149.2,4.8 Q146,6.6 142,5.2z" fill="#7cc4f2" stroke="#2a88bc" stroke-width="0.5"/><circle cx="150.4" cy="12.65" r="4.2" fill="url(#redc)"/><rect x="148.9" y="11" width="3.1" height="3.1" fill="#fff"/></g>
<rect x="214" y="0" width="1" height="21" fill="#a0a0a0" shape-rendering="crispEdges"/><rect x="215" y="0" width="1" height="21" fill="#fbfbfb" shape-rendering="crispEdges"/>
<rect x="218" y="1" width="3" height="1" fill="#b8b8b8" shape-rendering="crispEdges"/>
<rect x="218" y="3" width="3" height="1" fill="#b8b8b8" shape-rendering="crispEdges"/>
<rect x="218" y="5" width="3" height="1" fill="#b8b8b8" shape-rendering="crispEdges"/>
<rect x="218" y="7" width="3" height="1" fill="#b8b8b8" shape-rendering="crispEdges"/>
<rect x="218" y="9" width="3" height="1" fill="#b8b8b8" shape-rendering="crispEdges"/>
<rect x="218" y="11" width="3" height="1" fill="#b8b8b8" shape-rendering="crispEdges"/>
<rect x="218" y="13" width="3" height="1" fill="#b8b8b8" shape-rendering="crispEdges"/>
<rect x="218" y="15" width="3" height="1" fill="#b8b8b8" shape-rendering="crispEdges"/>
<rect x="218" y="17" width="3" height="1" fill="#b8b8b8" shape-rendering="crispEdges"/>
<g stroke="#5c5c5c" stroke-width="1.15" fill="#5c5c5c"><line x1="232.5" y1="4.5" x2="232.5" y2="17"/><line x1="230.0" y1="14.6" x2="242.5" y2="14.6"/><polygon points="232.5,3 230.9,5.6 234.1,5.6" stroke="none"/><polygon points="244.3,14.6 241.7,13 241.7,16.2" stroke="none"/></g>
<g stroke="#109010" stroke-width="1.3" fill="none"><line x1="238.6" y1="4.4" x2="238.6" y2="12.6"/><line x1="238.6" y1="5.4" x2="241" y2="5.4"/><line x1="236" y1="11.4" x2="238.6" y2="11.4"/></g>
<rect x="252" y="0" width="1" height="19" fill="#a0a0a0" shape-rendering="crispEdges"/>
<rect x="253" y="0" width="24" height="19" fill="url(#chk)" shape-rendering="crispEdges"/>
<g stroke="#5c5c5c" stroke-width="1.15" fill="#5c5c5c"><line x1="260.4" y1="4.5" x2="260.4" y2="17"/><line x1="257.9" y1="14.6" x2="270.4" y2="14.6"/><polygon points="260.4,3 258.79999999999995,5.6 262.0,5.6" stroke="none"/><polygon points="272.2,14.6 269.59999999999997,13 269.59999999999997,16.2" stroke="none"/></g>
<rect x="266" y="1.3" width="1" height="11.4" fill="#109010"/><rect x="264" y="3.6" width="4.8" height="7.2" fill="url(#gcan)" stroke="#109010" stroke-width="0.8"/>
<g stroke="#5c5c5c" stroke-width="1.15" fill="#5c5c5c"><line x1="288.3" y1="4.5" x2="288.3" y2="17"/><line x1="285.8" y1="14.6" x2="298.3" y2="14.6"/><polygon points="288.3,3 286.7,5.6 289.90000000000003,5.6" stroke="none"/><polygon points="300.1,14.6 297.5,13 297.5,16.2" stroke="none"/></g>
<path d="M287,11.6 Q291,6.2 293,6 Q295,6 297,8.8 Q298,9.8 299,10" fill="none" stroke="#30a030" stroke-width="1.2"/>
<rect x="309" y="0" width="1" height="19" fill="#a0a0a0" shape-rendering="crispEdges"/>
<line x1="327.8" y1="10.8" x2="333" y2="15.6" stroke="#b08818" stroke-width="3"/><line x1="327.8" y1="10.8" x2="333" y2="15.6" stroke="#f0d850" stroke-width="1.6"/>
<circle cx="324" cy="7" r="5.4" fill="url(#lens)" stroke="#3a7ec8" stroke-width="1.2"/>
<rect x="321" y="6.3" width="6" height="1.5" fill="#3a86b8"/>
<rect x="323.25" y="4" width="1.5" height="6" fill="#3a86b8"/>
<line x1="355.8" y1="10.8" x2="361" y2="15.6" stroke="#b08818" stroke-width="3"/><line x1="355.8" y1="10.8" x2="361" y2="15.6" stroke="#f0d850" stroke-width="1.6"/>
<circle cx="352" cy="7" r="5.4" fill="url(#lens)" stroke="#3a7ec8" stroke-width="1.2"/>
<rect x="349" y="6.3" width="6" height="1.5" fill="#3a86b8"/>
<rect x="374" y="1.4" width="7.8" height="7.6" rx="0.8" fill="url(#gq)"/><rect x="374.8" y="2.3" width="1" height="0.8" fill="#fff" opacity="0.8"/><path d="M375.4,8.0 v-3.2 h5 v3.2 h-1 v-1 h-3 v1z" fill="#fff"/><rect x="376.4" y="5.6" width="3" height="0.8" fill="#9adf7a"/>
<rect x="382.2" y="1.4" width="7.8" height="7.6" rx="0.8" fill="url(#bq)"/><rect x="383.0" y="2.3" width="1" height="0.8" fill="#fff" opacity="0.8"/><path d="M383.59999999999997,8.0 v-3.2 h5 v3.2 h-1 v-1 h-3 v1z" fill="#fff"/><rect x="384.59999999999997" y="5.6" width="3" height="0.8" fill="#8ab0f8"/>
<rect x="374" y="9.4" width="7.8" height="7.6" rx="0.8" fill="url(#bq)"/><rect x="374.8" y="10.3" width="1" height="0.8" fill="#fff" opacity="0.8"/><path d="M375.4,16.0 v-3.2 h5 v3.2 h-1 v-1 h-3 v1z" fill="#fff"/><rect x="376.4" y="13.600000000000001" width="3" height="0.8" fill="#8ab0f8"/>
<rect x="382.2" y="9.4" width="7.8" height="7.6" rx="0.8" fill="url(#gq)"/><rect x="383.0" y="10.3" width="1" height="0.8" fill="#fff" opacity="0.8"/><path d="M383.59999999999997,16.0 v-3.2 h5 v3.2 h-1 v-1 h-3 v1z" fill="#fff"/><rect x="384.59999999999997" y="13.600000000000001" width="3" height="0.8" fill="#9adf7a"/>
<rect x="399" y="0" width="1" height="19" fill="#a0a0a0" shape-rendering="crispEdges"/>
<rect x="404" y="0" width="1" height="19" fill="#a0a0a0" shape-rendering="crispEdges"/>
<rect x="405" y="0" width="24" height="19" fill="url(#chk)" shape-rendering="crispEdges"/>
<g stroke="#5c5c5c" stroke-width="1.15" fill="#5c5c5c"><line x1="412.5" y1="4.5" x2="412.5" y2="17"/><line x1="410.0" y1="14.6" x2="422.5" y2="14.6"/><polygon points="412.5,3 410.9,5.6 414.1,5.6" stroke="none"/><polygon points="424.3,14.6 421.7,13 421.7,16.2" stroke="none"/></g>
<polygon points="416.8,5.4 416.8,11.8 420.9,8.6" fill="#58d858" stroke="#109010" stroke-width="0.9"/>
<rect x="432" y="0" width="1" height="19" fill="#a0a0a0" shape-rendering="crispEdges"/>
<rect x="433" y="0" width="24" height="19" fill="url(#chk)" shape-rendering="crispEdges"/>
<g stroke="#5c5c5c" stroke-width="1.15" fill="#5c5c5c"><line x1="440.5" y1="4.5" x2="440.5" y2="17"/><line x1="438.0" y1="14.6" x2="450.5" y2="14.6"/><polygon points="440.5,3 438.9,5.6 442.1,5.6" stroke="none"/><polygon points="452.3,14.6 449.7,13 449.7,16.2" stroke="none"/></g>
<rect x="446" y="3.2" width="1.2" height="9.6" fill="#1868a8"/><polygon points="447.4,8.5 450,6.6 449.6,8 451.8,8 451.8,9 449.6,9 450,10.4" fill="#e04800" stroke="#e04800" stroke-width="0.3"/>
<rect x="461" y="0" width="1" height="19" fill="#a0a0a0" shape-rendering="crispEdges"/>
<path d="M471.6,2 h7.6 l3.2,3 v9.4 h-10.8z" fill="#fff" stroke="#909090" stroke-width="0.8"/><path d="M479.2,2 v3 h3.2" fill="#e8e8e8" stroke="#909090" stroke-width="0.6"/><path d="M474.8,4.6 q-1.6,0.4 -1.4,2.6 v4.2" fill="none" stroke="#705028" stroke-width="0.9"/>
<path d="M479.4,7.6 h3.4 v3.8 h3.8 v3.4 h-3.8 v3.8 h-3.4 v-3.8 h-3.8 v-3.4 h3.8z" fill="url(#plus)" stroke="#0a8a0a" stroke-width="0.7"/><path d="M480.3,8.6 h1.6 v3.8 h3.8 v1.4 h-3.8 v3.8 h-1.6 v-3.8 h-3.8 v-1.4 h3.8z" fill="#7cf47c" opacity="0.55"/>
<polygon points="492.6,8 498.20000000000005,8 495.40000000000003,11" fill="#000"/>
<circle cx="517" cy="9.2" r="6.35" fill="#f6f8fa" stroke="url(#clk)" stroke-width="3.1"/><circle cx="517" cy="9.2" r="7.9" fill="none" stroke="#0a50a8" stroke-width="0.4"/><g stroke="#282828" stroke-width="1" fill="none"><line x1="516.4" y1="5.2" x2="516.9" y2="9.2"/><line x1="516.6" y1="8.6" x2="520" y2="9.6"/></g><g fill="#808080"><rect x="516.6" y="3.6" width="0.8" height="0.8"/><rect x="521.8" y="8.8" width="0.8" height="0.8"/><rect x="511.6" y="8.8" width="0.8" height="0.8"/><rect x="513" y="5" width="0.7" height="0.7"/><rect x="520.4" y="5" width="0.7" height="0.7"/><rect x="513" y="12.6" width="0.7" height="0.7"/><rect x="520.4" y="12.6" width="0.7" height="0.7"/></g><rect x="515.6" y="13.6" width="2.6" height="0.8" fill="#60a8f0"/>
<polygon points="531.8,8 537.4,8 534.5999999999999,11" fill="#000"/>
<rect x="548.4" y="2.4" width="15.4" height="13.2" fill="#fff" stroke="#3a78c8" stroke-width="1"/><rect x="548.4" y="2.4" width="15.4" height="2.6" fill="url(#tplh)"/><rect x="549" y="9.6" width="14.4" height="1" fill="#4a88d0"/><path d="M550.4,8.2 h1.6 l1.2,-1 h1.2 l1.2,-1 h1.4 l1,1 h1.8 l1.2,-1 h1" fill="none" stroke="#8e1c04" stroke-width="1.15"/><path d="M551,13.6 h1.4 l1,-0.8 h1.2 l1,0.8 h1.2 l1.8,-2 h1.2 l1.8,2" fill="none" stroke="#0c8a1c" stroke-width="1.15"/>
<polygon points="570.6,8 576.2,8 573.4,11" fill="#000"/>
<rect x="582" y="0" width="1" height="21" fill="#a0a0a0" shape-rendering="crispEdges"/><rect x="583" y="0" width="1" height="21" fill="#fbfbfb" shape-rendering="crispEdges"/>
<rect x="586" y="1" width="3" height="1" fill="#b8b8b8" shape-rendering="crispEdges"/>
<rect x="586" y="3" width="3" height="1" fill="#b8b8b8" shape-rendering="crispEdges"/>
<rect x="586" y="5" width="3" height="1" fill="#b8b8b8" shape-rendering="crispEdges"/>
<rect x="586" y="7" width="3" height="1" fill="#b8b8b8" shape-rendering="crispEdges"/>
<rect x="586" y="9" width="3" height="1" fill="#b8b8b8" shape-rendering="crispEdges"/>
<rect x="586" y="11" width="3" height="1" fill="#b8b8b8" shape-rendering="crispEdges"/>
<rect x="586" y="13" width="3" height="1" fill="#b8b8b8" shape-rendering="crispEdges"/>
<rect x="586" y="15" width="3" height="1" fill="#b8b8b8" shape-rendering="crispEdges"/>
<rect x="586" y="17" width="3" height="1" fill="#b8b8b8" shape-rendering="crispEdges"/>
<rect x="592" y="0" width="1" height="19" fill="#a0a0a0" shape-rendering="crispEdges"/>
<rect x="593" y="0" width="24" height="19" fill="url(#chk)" shape-rendering="crispEdges"/>
<polygon points="600.1,1.9 600.1,12.9 602.7,10.7 605.2,16.2 607.1,15.2 604.6,10 608,9.6" fill="#505050"/>
<g fill="#505050"><rect x="631.9" y="2" width="1.1" height="6"/><rect x="631.9" y="11" width="1.1" height="5.8"/><rect x="625" y="9" width="5.8" height="1.1"/><rect x="634" y="9" width="5.8" height="1.1"/><rect x="632" y="9.1" width="0.9" height="0.9" opacity="0.7"/></g>
<rect x="649" y="0" width="1" height="19" fill="#a0a0a0" shape-rendering="crispEdges"/>
<rect x="666" y="3.2" width="1.1" height="12.6" fill="#505050"/>
<rect x="689" y="9" width="12.2" height="1.1" fill="#505050"/>
<line x1="716.9" y1="15.8" x2="728.9" y2="3.8" stroke="#505050" stroke-width="1.1"/>
<g stroke="#484848" stroke-width="1.05" fill="none"><line x1="742.7" y1="10.4" x2="750.9" y2="2.8"/><line x1="743.7" y1="14.8" x2="757.2" y2="3.8"/><line x1="748.1" y1="15.8" x2="757.2" y2="7.3"/><path d="M745.8,9 l-0.6,5.4 M748.3,6.8 l-0.8,7 M750.8,4.6 l-0.8,7 M754.7,1.4 l0.5,7.2" stroke-width="0.9"/></g>
<path d="M754.1,13.2 h4 v1.1 h-2.7 v0.7 h2.4 v1 h-2.4 v0.7 h2.8 v1.1 h-4.1z" fill="#3e3e3e"/>
<rect x="772" y="2" width="1" height="1" fill="#505050" shape-rendering="crispEdges"/>
<rect x="774" y="2" width="1" height="1" fill="#505050" shape-rendering="crispEdges"/>
<rect x="776" y="2" width="1" height="1" fill="#505050" shape-rendering="crispEdges"/>
<rect x="778" y="2" width="1" height="1" fill="#505050" shape-rendering="crispEdges"/>
<rect x="780" y="2" width="1" height="1" fill="#505050" shape-rendering="crispEdges"/>
<rect x="782" y="2" width="1" height="1" fill="#505050" shape-rendering="crispEdges"/>
<rect x="784" y="2" width="1" height="1" fill="#505050" shape-rendering="crispEdges"/>
<rect x="772" y="5" width="1" height="1" fill="#505050" shape-rendering="crispEdges"/>
<rect x="774" y="5" width="1" height="1" fill="#505050" shape-rendering="crispEdges"/>
<rect x="776" y="5" width="1" height="1" fill="#505050" shape-rendering="crispEdges"/>
<rect x="778" y="5" width="1" height="1" fill="#505050" shape-rendering="crispEdges"/>
<rect x="780" y="5" width="1" height="1" fill="#505050" shape-rendering="crispEdges"/>
<rect x="782" y="5" width="1" height="1" fill="#505050" shape-rendering="crispEdges"/>
<rect x="784" y="5" width="1" height="1" fill="#505050" shape-rendering="crispEdges"/>
<rect x="772" y="9" width="1" height="1" fill="#505050" shape-rendering="crispEdges"/>
<rect x="774" y="9" width="1" height="1" fill="#505050" shape-rendering="crispEdges"/>
<rect x="776" y="9" width="1" height="1" fill="#505050" shape-rendering="crispEdges"/>
<rect x="778" y="9" width="1" height="1" fill="#505050" shape-rendering="crispEdges"/>
<rect x="780" y="9" width="1" height="1" fill="#505050" shape-rendering="crispEdges"/>
<rect x="782" y="9" width="1" height="1" fill="#505050" shape-rendering="crispEdges"/>
<rect x="784" y="9" width="1" height="1" fill="#505050" shape-rendering="crispEdges"/>
<rect x="772" y="13" width="1" height="1" fill="#505050" shape-rendering="crispEdges"/>
<rect x="774" y="13" width="1" height="1" fill="#505050" shape-rendering="crispEdges"/>
<rect x="776" y="13" width="1" height="1" fill="#505050" shape-rendering="crispEdges"/>
<rect x="778" y="13" width="1" height="1" fill="#505050" shape-rendering="crispEdges"/>
<rect x="780" y="13" width="1" height="1" fill="#505050" shape-rendering="crispEdges"/>
<path d="M782.1,13.2 h3.9 v1.1 h-2.6 v0.8 h2.2 v1 h-2.2 v1.7 h-1.3z" fill="#3e3e3e"/>
<path fill-rule="evenodd" d="M802.7,13.9 L806,5 L807.4,5 L810.6,13.9 L809.2,13.9 L808.35,11.4 L804.95,11.4 L804.05,13.9Z M805.35,10.3 L807.95,10.3 L806.66,6.4Z" fill="#5a5a5a"/>
<rect x="829" y="3" width="1" height="1" fill="#505050" shape-rendering="crispEdges"/>
<rect x="829" y="15" width="1" height="1" fill="#505050" shape-rendering="crispEdges"/>
<rect x="831" y="3" width="1" height="1" fill="#505050" shape-rendering="crispEdges"/>
<rect x="831" y="15" width="1" height="1" fill="#505050" shape-rendering="crispEdges"/>
<rect x="833" y="3" width="1" height="1" fill="#505050" shape-rendering="crispEdges"/>
<rect x="833" y="15" width="1" height="1" fill="#505050" shape-rendering="crispEdges"/>
<rect x="835" y="3" width="1" height="1" fill="#505050" shape-rendering="crispEdges"/>
<rect x="835" y="15" width="1" height="1" fill="#505050" shape-rendering="crispEdges"/>
<rect x="837" y="3" width="1" height="1" fill="#505050" shape-rendering="crispEdges"/>
<rect x="837" y="15" width="1" height="1" fill="#505050" shape-rendering="crispEdges"/>
<rect x="839" y="3" width="1" height="1" fill="#505050" shape-rendering="crispEdges"/>
<rect x="839" y="15" width="1" height="1" fill="#505050" shape-rendering="crispEdges"/>
<rect x="840" y="3" width="1" height="1" fill="#505050" shape-rendering="crispEdges"/>
<rect x="840" y="15" width="1" height="1" fill="#505050" shape-rendering="crispEdges"/>
<rect x="829" y="5" width="1" height="1" fill="#505050" shape-rendering="crispEdges"/>
<rect x="840" y="5" width="1" height="1" fill="#505050" shape-rendering="crispEdges"/>
<rect x="829" y="7" width="1" height="1" fill="#505050" shape-rendering="crispEdges"/>
<rect x="840" y="7" width="1" height="1" fill="#505050" shape-rendering="crispEdges"/>
<rect x="829" y="9" width="1" height="1" fill="#505050" shape-rendering="crispEdges"/>
<rect x="840" y="9" width="1" height="1" fill="#505050" shape-rendering="crispEdges"/>
<rect x="829" y="11" width="1" height="1" fill="#505050" shape-rendering="crispEdges"/>
<rect x="840" y="11" width="1" height="1" fill="#505050" shape-rendering="crispEdges"/>
<rect x="829" y="13" width="1" height="1" fill="#505050" shape-rendering="crispEdges"/>
<rect x="840" y="13" width="1" height="1" fill="#505050" shape-rendering="crispEdges"/>
<rect x="828" y="2.2" width="2.4" height="1.2" fill="#505050"/>
<rect x="831.2" y="6" width="7.6" height="1.3" fill="#585858"/><rect x="834.3" y="6" width="1.4" height="7.6" fill="#585858"/>
<polygon points="859.6,2.8 856,6.4 857.6,7.6 861.6,7.6 863.2,6.4" fill="#505050"/><polygon points="866.5,16 863,12.4 864.6,11.2 868.4,11.2 870,12.4" fill="#505050"/><path d="M858.4,10.8 l1.8,1.8 l4.8,-5.4" fill="none" stroke="#505050" stroke-width="1.1"/>
<polygon points="876.8,8 882.4,8 879.5999999999999,11" fill="#000"/>
<rect x="888" y="0" width="1" height="21" fill="#a0a0a0" shape-rendering="crispEdges"/><rect x="889" y="0" width="1" height="21" fill="#fbfbfb" shape-rendering="crispEdges"/>
<rect x="892" y="1" width="3" height="1" fill="#b8b8b8" shape-rendering="crispEdges"/>
<rect x="892" y="3" width="3" height="1" fill="#b8b8b8" shape-rendering="crispEdges"/>
<rect x="892" y="5" width="3" height="1" fill="#b8b8b8" shape-rendering="crispEdges"/>
<rect x="892" y="7" width="3" height="1" fill="#b8b8b8" shape-rendering="crispEdges"/>
<rect x="892" y="9" width="3" height="1" fill="#b8b8b8" shape-rendering="crispEdges"/>
<rect x="892" y="11" width="3" height="1" fill="#b8b8b8" shape-rendering="crispEdges"/>
<rect x="892" y="13" width="3" height="1" fill="#b8b8b8" shape-rendering="crispEdges"/>
<rect x="892" y="15" width="3" height="1" fill="#b8b8b8" shape-rendering="crispEdges"/>
<rect x="892" y="17" width="3" height="1" fill="#b8b8b8" shape-rendering="crispEdges"/>
<rect x="1039" y="0" width="24" height="19" fill="url(#chk)" shape-rendering="crispEdges"/>
<rect x="1038" y="0" width="1" height="19" fill="#a0a0a0" shape-rendering="crispEdges"/>
<text transform="translate(903.4,13) scale(0.94,1)" font-family="Liberation Sans, sans-serif" font-size="9.8px" text-rendering="geometricPrecision" fill="#3a3a3a">M1</text>
<text transform="translate(931.4,13) scale(0.94,1)" font-family="Liberation Sans, sans-serif" font-size="9.8px" text-rendering="geometricPrecision" fill="#3a3a3a">M5</text>
<text transform="translate(957.4,13) scale(0.94,1)" font-family="Liberation Sans, sans-serif" font-size="9.8px" text-rendering="geometricPrecision" fill="#3a3a3a">M15</text>
<text transform="translate(985.5,13) scale(0.94,1)" font-family="Liberation Sans, sans-serif" font-size="9.8px" text-rendering="geometricPrecision" fill="#3a3a3a">M30</text>
<text transform="translate(1016.4,13) scale(0.94,1)" font-family="Liberation Sans, sans-serif" font-size="9.8px" text-rendering="geometricPrecision" fill="#3a3a3a">H1</text>
<text transform="translate(1043.3,13) scale(0.94,1)" font-family="Liberation Sans, sans-serif" font-size="9.8px" text-rendering="geometricPrecision" fill="#3a3a3a">H4</text>
<text transform="translate(1072.3,13) scale(0.94,1)" font-family="Liberation Sans, sans-serif" font-size="9.8px" text-rendering="geometricPrecision" fill="#3a3a3a">D1</text>
<text transform="translate(1100,13) scale(0.94,1)" font-family="Liberation Sans, sans-serif" font-size="9.8px" text-rendering="geometricPrecision" fill="#3a3a3a">W1</text>
<text transform="translate(1126.6,13) scale(0.94,1)" font-family="Liberation Sans, sans-serif" font-size="9.8px" text-rendering="geometricPrecision" fill="#3a3a3a">MN</text>
<rect x="1149" y="0" width="1" height="21" fill="#a0a0a0" shape-rendering="crispEdges"/><rect x="1150" y="0" width="1" height="21" fill="#fbfbfb" shape-rendering="crispEdges"/>
<line x1="1616.6" y1="9.4" x2="1612.6" y2="13.6" stroke="#2258d0" stroke-width="2.6" stroke-linecap="round"/><circle cx="1619.7" cy="6.3" r="4" fill="#fafcff" stroke="#2a62da" stroke-width="1.2"/>
<path d="M1636.4,11.2 a5.6,4.6 0 0 1 11.4,0 a5.6,4.6 0 0 1 -7.6,4.2 l-1.2,2 l-0.2,-2.6 a5,4.4 0 0 1 -2.4,-3.6z" fill="#e2e2ee" stroke="#b8b8c4" stroke-width="0.7"/>
<circle cx="1650.5" cy="6.5" r="8" fill="url(#badge)"/><text x="1647" y="11" font-family="Liberation Sans, sans-serif" font-size="12.4px" fill="#fff">1</text>
</svg>
</body></html>
